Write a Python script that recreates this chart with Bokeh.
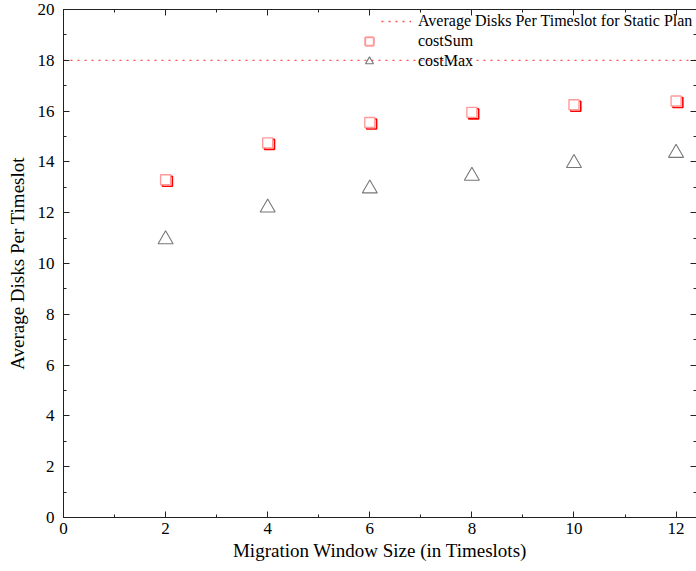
from bokeh.plotting import figure
from bokeh.models import (Range1d, LinearAxis, SingleIntervalTicker, Legend,
                          LegendItem, ColumnDataSource)
from bokeh.transform import dodge
from bokeh.embed import file_html
from bokeh.resources import INLINE

# Data
window_sizes = [2, 4, 6, 8, 10, 12]
cost_sum = [13.3, 14.75, 15.55, 15.95, 16.25, 16.4]
cost_max = [10.95, 12.2, 12.95, 13.45, 13.95, 14.35]
static_plan = 18.0

x_min, x_max = 0, 12.4
y_min, y_max = 0, 20

FONT = "Liberation Serif"
AXIS_COLOR = "#222222"

src = ColumnDataSource(dict(x=window_sizes, s=cost_sum, m=cost_max))

p = figure(width=696, height=571,
           x_range=Range1d(x_min, x_max), y_range=Range1d(y_min, y_max),
           output_backend="svg", toolbar_location=None,
           min_border_left=63, min_border_right=0,
           min_border_top=9, min_border_bottom=54,
           x_axis_label="Migration Window Size (in Timeslots)",
           y_axis_label="Average Disks Per Timeslot")
p.outline_line_color = None
p.grid.visible = False
p.background_fill_color = "white"
p.border_fill_color = "white"

p.xaxis.ticker = SingleIntervalTicker(interval=2, num_minor_ticks=2)
p.yaxis.ticker = SingleIntervalTicker(interval=2, num_minor_ticks=2)


def style_axis(ax, labels=True):
    ax.axis_line_color = AXIS_COLOR
    ax.major_tick_line_color = AXIS_COLOR
    ax.minor_tick_line_color = AXIS_COLOR
    ax.major_tick_in = 6
    ax.major_tick_out = 0
    ax.minor_tick_in = 3
    ax.minor_tick_out = 0
    ax.major_label_text_font = FONT
    if labels:
        ax.major_label_text_font_size = "17px"
        ax.major_label_text_color = "black"
    else:
        # tick marks only, no labels
        ax.major_label_text_font_size = "0px"
        ax.major_label_text_color = None
        ax.major_label_standoff = 0
    ax.axis_label_text_font = FONT
    ax.axis_label_text_font_size = "19px"
    ax.axis_label_text_font_style = "normal"
    ax.axis_label_text_color = "black"


style_axis(p.xaxis[0])
style_axis(p.yaxis[0])
p.xaxis.major_label_standoff = 5
p.xaxis.axis_label_standoff = 3
p.yaxis.major_label_standoff = 9
p.yaxis.axis_label_standoff = 7

# Mirrored ticks on the top and right edges
top = LinearAxis(ticker=SingleIntervalTicker(interval=2, num_minor_ticks=2))
style_axis(top, labels=False)
p.add_layout(top, "above")

right = LinearAxis(ticker=SingleIntervalTicker(interval=2, num_minor_ticks=2))
style_axis(right, labels=False)
right.axis_line_color = None
p.add_layout(right, "right")

# Reference level for the static plan
static_line = p.line(x=[x_min, x_max], y=[static_plan, static_plan],
                     line_color="#ff3a3a", line_width=1.3,
                     line_dash="2 5", line_alpha=0.9)

# costSum: shadowed squares
sum_shadow = p.scatter(x=dodge("x", 0.035, range=p.x_range),
                       y=dodge("s", -0.06, range=p.y_range), source=src,
                       marker="square", size=10, fill_color=None,
                       line_color="#ff0000", line_width=1.6)
sum_face = p.scatter(x="x", y="s", source=src, marker="square", size=10,
                     fill_color="white", line_color="#ff9a9a", line_width=1.4)

# costMax: open triangles
max_pts = p.scatter(x="x", y="m", source=src, marker="triangle", size=15,
                    fill_color=None, line_color="#777777", line_width=1.1)


def style_legend(lg):
    lg.padding = 0
    lg.margin = 0
    lg.spacing = 0
    lg.glyph_height = 20
    lg.label_height = 20
    lg.label_text_font = FONT
    lg.label_text_font_size = "16px"
    lg.label_text_color = "black"
    lg.border_line_color = None
    lg.background_fill_alpha = 0


# Line sample and marker samples sit at different offsets, so two legends
line_legend = Legend(items=[
    LegendItem(label="Average Disks Per Timeslot for Static Plan",
               renderers=[static_line]),
], location=(318, 486))
style_legend(line_legend)
line_legend.glyph_width = 30
line_legend.label_standoff = 7
p.add_layout(line_legend)

marker_legend = Legend(items=[
    LegendItem(label="costSum", renderers=[sum_shadow, sum_face]),
    LegendItem(label="costMax", renderers=[max_pts]),
], location=(296, 446))
style_legend(marker_legend)
marker_legend.glyph_width = 20
marker_legend.label_standoff = 39
p.add_layout(marker_legend)

open("out.html", "w").write(file_html(p, INLINE))
